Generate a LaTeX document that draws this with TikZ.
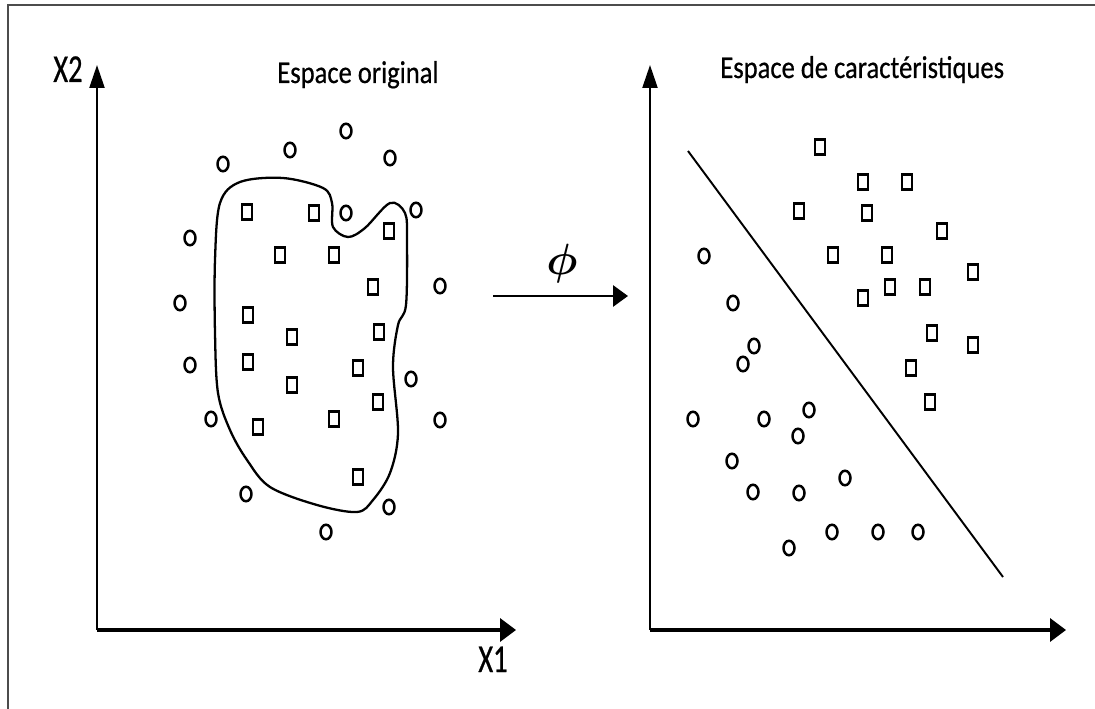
\documentclass[tikz,border=0pt]{standalone}
\usepackage{amsmath}
\usepackage{fontspec}
\usetikzlibrary{arrows.meta,shapes.geometric}
\newfontfamily\titlefont[FakeStretch=0.84,FakeBold=0.6]{Carlito}
\newfontfamily\axisfont[FakeStretch=0.72,FakeBold=0.6]{Carlito}

\begin{document}
\begin{tikzpicture}[x=0.02cm,y=-0.02cm,
    circ/.style={draw,ellipse,line width=1.4pt,inner sep=0pt,minimum width=0.22cm,minimum height=0.29cm},
    sq/.style={draw,rectangle,line width=1.4pt,inner sep=0pt,minimum width=0.21cm,minimum height=0.3cm},
    vaxis/.style={line width=1.3pt,-{Triangle[length=0.46cm,width=0.3cm]}},
    haxis/.style={line width=1.9pt,-{Triangle[length=0.32cm,width=0.46cm]}}]
    \useasboundingbox (0,0) rectangle (1095,709);

    % Frame
    \draw[gray!60!black,line width=0.7pt] (8,709) -- (8,5) -- (1095,5);

    % Draw axes
    \coordinate (o1) at (97,630);
    \coordinate (y1) at (97,65);
    \coordinate (x1) at (516,630);
    \coordinate (o2) at (650,630);
    \coordinate (y2) at (650,65);
    \coordinate (x2) at (1066,630);
    \draw[vaxis] (o1) -- (y1);
    \draw[haxis] (o1) -- (x1);
    \draw[vaxis] (o2) -- (y2);
    \draw[haxis] (o2) -- (x2);

    % Axis labels
    \node[anchor=base west,inner sep=0pt,font=\axisfont\fontsize{22.5}{24}\selectfont] (lx2) at (53,82) {X2};
    \node[anchor=base west,inner sep=0pt,font=\axisfont\fontsize{22.5}{24}\selectfont] (lx1) at (478,672) {X1};

    % Titles
    \node[anchor=base west,inner sep=0pt,font=\titlefont\fontsize{18}{20}\selectfont] (t1) at (277,83) {Espace original};
    \node[anchor=base west,inner sep=0pt,font=\titlefont\fontsize{18}{20}\selectfont] (t2) at (720,78) {Espace de caract\'eristiques};

    % Original space: points
    \foreach \p [count=\i] in {(223,164),(290,150),(346,131),(390,158),(416,210),(346,213),(190,238),(180,303),
        (440,286),(190,365),(411,379),(211,419),(440,420),(246,494),(389,507),(326,532)}
        \node[circ] (oc\i) at \p {};
    \foreach \p [count=\i] in {(247,212),(314,213),(389,231),(280,255),(334,255),(373,287),(248,315),(292,337),
        (379,332),(248,362),(358,368),(292,385),(378,402),(334,419),(258,427),(358,477)}
        \node[sq] (os\i) at \p {};

    % Non-linear boundary
    \draw[line width=1.3pt] plot[smooth cycle,tension=0.55] coordinates {(240,182) (283,178) (323,188) (332,203)
        (333,227) (348,237) (365,228) (390,203) (405,213) (407,240) (406,305) (398,325) (393,367) (398,433)
        (390,473) (373,500) (357,512) (317,505) (270,487) (247,460) (230,430) (218,393) (215,333) (215,260) (220,203)};

    % Mapping phi
    \coordinate (m1) at (493,296);
    \coordinate (m2) at (628,296);
    \draw[line width=1.7pt,-{Triangle[length=0.3cm,width=0.42cm]}] (m1) -- (m2);
    \node[font=\fontsize{24}{26}\selectfont] (phi) at (562,264) {$\boldsymbol{\phi}$};

    % Feature space: points
    \foreach \p [count=\i] in {(704,256),(733,303),(754,346),(743,364),(693,419),(764,419),(809,410),(798,436),
        (732,461),(753,492),(799,493),(845,478),(832,532),(878,532),(918,532),(789,548)}
        \node[circ] (fc\i) at \p {};
    \foreach \p [count=\i] in {(820,147),(863,182),(907,182),(799,211),(867,213),(942,231),(833,255),(887,255),
        (973,272),(863,298),(890,287),(925,287),(932,333),(973,345),(911,368),(930,402)}
        \node[sq] (fs\i) at \p {};

    % Linear separator
    \coordinate (s1) at (688,151);
    \coordinate (s2) at (1003,577);
    \draw[line width=1.1pt] (s1) -- (s2);

\end{tikzpicture}
\end{document}
